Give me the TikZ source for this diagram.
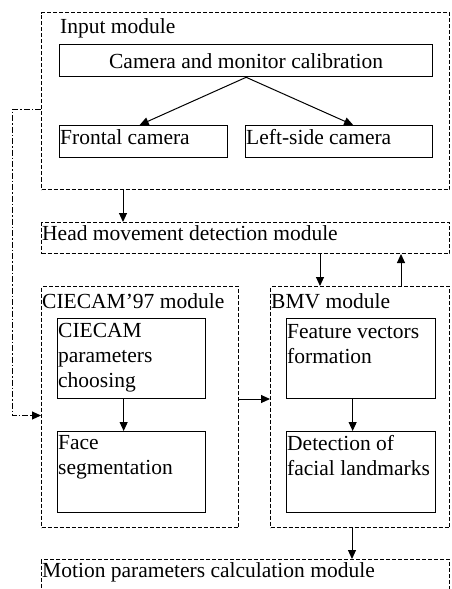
\documentclass[tikz,border=0pt]{standalone}
\usepackage{fontspec}
\setmainfont{Liberation Serif}
\usetikzlibrary{arrows.meta}

\begin{document}
\begin{tikzpicture}[x=1pt, y=-1pt,
  font=\fontsize{21.5}{25}\selectfont,
  module/.style={draw, dash pattern=on 4pt off 2pt, line width=1pt, anchor=north west, inner sep=0pt},
  unit/.style={draw, line width=1.3pt, anchor=north west, inner sep=0pt},
  lbl/.style={anchor=north west, align=left, inner xsep=1pt, inner ysep=6pt},
  arr/.style={line width=1pt, -{Triangle[length=9pt,width=8pt]}},
  fback/.style={arr, dash pattern=on 6pt off 2pt on 1.5pt off 2pt}]
   \path[use as bounding box, clip] (0,0) rectangle (451,589);
   % input module
   \node[module, minimum width=408pt, minimum height=177pt,
     label={[lbl, xshift=18pt, inner ysep=6.5pt]north west:Input module}] (input) at (41,12) {};
   \node[unit, minimum width=373pt, minimum height=32pt] (calib) at (59,44) {Camera and monitor calibration};
   \node[unit, minimum width=168pt, minimum height=32pt,
     label={[lbl, inner ysep=4.5pt]north west:Frontal camera}] (front) at (59,125) {};
   \node[unit, minimum width=187pt, minimum height=32pt,
     label={[lbl, inner ysep=4.5pt]north west:Left-side camera}] (side) at (245,125) {};
   \draw[arr] (calib.south) -- ([xshift=-4pt]front.north);
   \draw[arr] (calib.south) -- ([xshift=14pt]side.north);
   % head movement
   \node[module, minimum width=408pt, minimum height=31pt,
     label={[lbl, inner ysep=3pt]north west:Head movement detection module}] (head) at (41,222) {};
   % CIECAM'97 module
   \node[module, minimum width=197pt, minimum height=241pt,
     label={[lbl, inner ysep=7.5pt]north west:CIECAM'97 module}] (ciecam) at (41,286) {};
   \node[unit, minimum width=148pt, minimum height=80pt,
     label={[lbl, inner ysep=5.5pt]north west:{CIECAM\\parameters\\choosing}}] (param) at (57,318) {};
   \node[unit, minimum width=148pt, minimum height=81pt,
     label={[lbl, inner ysep=4.5pt]north west:{Face\\segmentation}}] (face) at (57,431) {};
   % BMV module
   \node[module, minimum width=179pt, minimum height=241pt,
     label={[lbl, inner ysep=7.5pt]north west:BMV module}] (bmv) at (270,286) {};
   \node[unit, minimum width=149pt, minimum height=80pt,
     label={[lbl, inner ysep=6.5pt]north west:{Feature vectors\\formation}}] (feature) at (286,318) {};
   \node[unit, minimum width=149pt, minimum height=81pt,
     label={[lbl, inner ysep=4.5pt]north west:{Detection of\\facial landmarks}}] (detect) at (286,431) {};
   % motion parameters
   \node[module, minimum width=408pt, minimum height=60pt,
     label={[lbl, inner ysep=3.5pt]north west:Motion parameters calculation module}] (motion) at (41,559) {};
   % connections
   \draw[arr] ([xshift=82pt]input.south west) -- ([xshift=82pt]head.north west);
   \draw[fback] ([yshift=-8.5pt]input.west) -- ++(-29,0) |- ([yshift=-8.5pt]ciecam.west);
   \draw[arr] ([xshift=-40pt]head.south -| bmv.north) -- ([xshift=-40pt]bmv.north);
   \draw[arr] ([xshift=41pt]bmv.north) -- ([xshift=41pt]head.south -| bmv.north);
   \draw[arr] ([xshift=-8pt]param.south) -- ([xshift=-8pt]face.north);
   \draw[arr] ([xshift=-8.5pt]feature.south) -- ([xshift=-8.5pt]detect.north);
   \draw[arr] ([yshift=8pt]ciecam.east) -- ([yshift=8pt]bmv.west);
   \draw[arr] ([xshift=-8pt]bmv.south) -- ([xshift=-8pt]motion.north -| bmv.south);
  \end{tikzpicture}
\end{document}
